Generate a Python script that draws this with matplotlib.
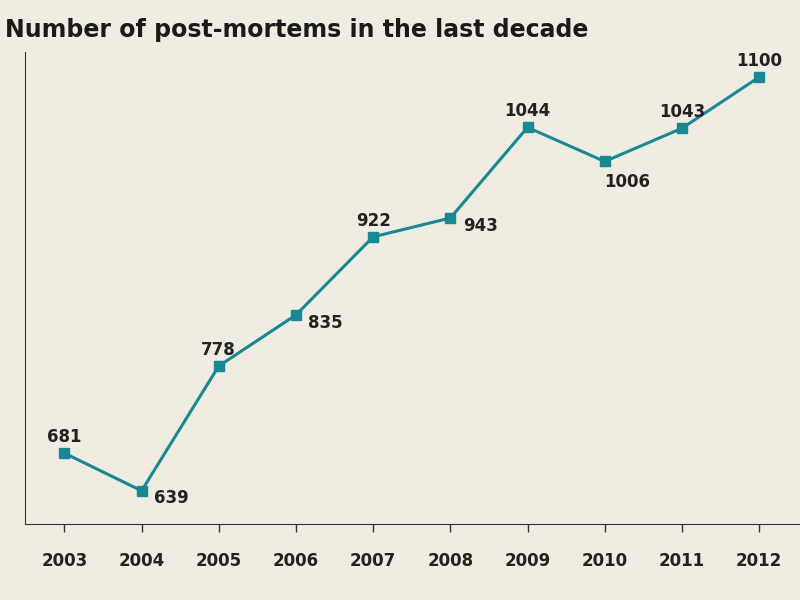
import matplotlib
matplotlib.use("Agg")
import matplotlib.pyplot as plt

years = [2003, 2004, 2005, 2006, 2007, 2008, 2009, 2010, 2011, 2012]
values = [681, 639, 778, 835, 922, 943, 1044, 1006, 1043, 1100]
label_pos = ["above", "belowright", "above", "belowright", "above", "belowright", "above", "below", "above", "above"]

bg = "#f1ece1"
teal = "#138a94"
fig = plt.figure(figsize=(8, 6), dpi=100, facecolor=bg)
ax = fig.add_axes([25/800, 76/600, 775/800, 472/600], facecolor=bg)
ax.plot(years, values, color=teal, lw=2.2, marker="s", ms=7, zorder=3)
for x, v, p in zip(years, values, label_pos):
    if p == "above":
        ax.annotate(str(v), (x, v), xytext=(0, 5), textcoords="offset points", ha="center", va="bottom",
                    fontsize=12, fontweight="bold", color="#222222")
    elif p == "belowright":
        ax.annotate(str(v), (x, v), xytext=(9, 1), textcoords="offset points", ha="left", va="top",
                    fontsize=12, fontweight="bold", color="#222222")
    else:
        ax.annotate(str(v), (x, v), xytext=(16, -8), textcoords="offset points", ha="center", va="top",
                    fontsize=12, fontweight="bold", color="#222222")
ax.set_xlim(2002.49, 2012.53)
ax.set_ylim(602, 1128)
ax.set_xticks(years)
ax.set_xticklabels([str(y) for y in years], fontsize=12, fontweight="bold", color="#222222")
ax.tick_params(axis="x", length=6, width=1, color="#333333", pad=14)
ax.set_yticks([])
for s in ["top", "right"]:
    ax.spines[s].set_visible(False)
ax.spines["left"].set_color("#333333")
ax.spines["bottom"].set_color("#333333")
fig.text(5/800, 1 - 30/600, "Number of post-mortems in the last decade", fontsize=17, fontweight="bold",
         color="#1a1a1a", va="center", ha="left")
fig.savefig("out.png", dpi=100, facecolor=bg)
